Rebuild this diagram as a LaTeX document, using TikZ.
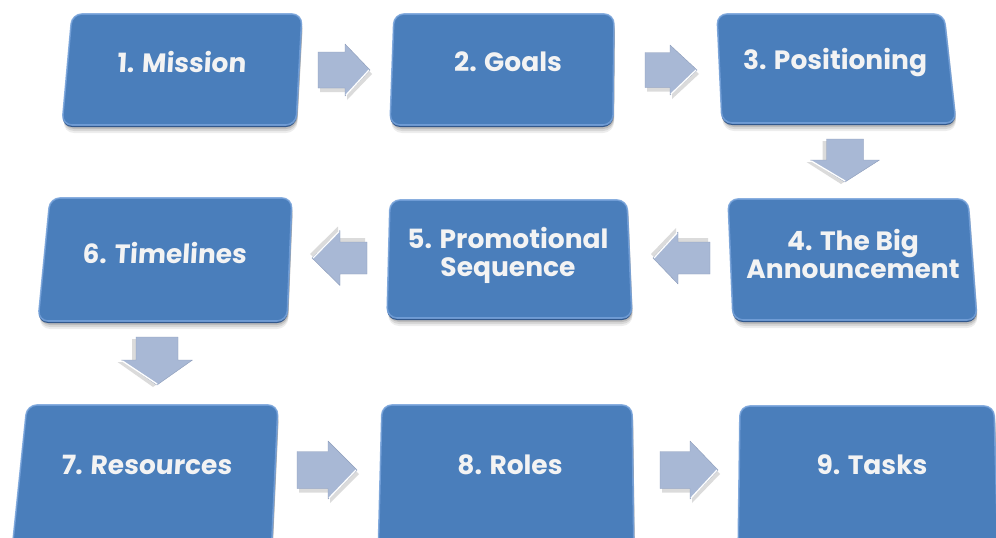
\documentclass[tikz,border=0pt]{standalone}
\usepackage{fontspec}
\setmainfont{Poppins}
\usetikzlibrary{calc}

\definecolor{boxblue}{RGB}{74,126,187}
\definecolor{boxrim}{RGB}{118,162,218}
\definecolor{boxdark}{RGB}{50,88,140}
\definecolor{arrowfill}{RGB}{168,184,213}
\definecolor{arrowedge}{RGB}{140,156,186}
\definecolor{labelwhite}{RGB}{243,243,243}

% rounded, slightly skewed step box: #1 name, #2..#5 = TL, TR, BR, BL corners
\newcommand\stepshape[5]{%
  \coordinate (#1-tl) at #2;
  \coordinate (#1-tr) at #3;
  \coordinate (#1-br) at #4;
  \coordinate (#1-bl) at #5;
  \foreach \dy/\op in {8/0.07,6/0.09,4/0.12,2/0.14}{%
    \fill[black,opacity=\op,rounded corners=11pt]
      ($(#1-tl)+(1,\dy)$) -- ($(#1-tr)+(1,\dy)$) -- ($(#1-br)+(1,\dy)$) -- ($(#1-bl)+(1,\dy)$) -- cycle;
  }
  \fill[boxdark,rounded corners=10pt]
    ($(#1-tl)+(0,2)$) -- ($(#1-tr)+(0,2)$) -- ($(#1-br)+(0,2)$) -- ($(#1-bl)+(0,2)$) -- cycle;
  \fill[boxblue,rounded corners=10pt] (#1-tl) -- (#1-tr) -- (#1-br) -- (#1-bl) -- cycle;
  \draw[boxrim,line width=1.6pt,opacity=.85,rounded corners=10pt]
    (#1-tl) -- (#1-tr) -- (#1-br) -- (#1-bl) -- cycle;
}

\tikzset{
  steplabel/.style={text=labelwhite,font=\bfseries\fontsize{26.5}{28}\selectfont,
    align=center,inner sep=0pt},
  leanlabel/.style={steplabel,xslant=0.06,transform shape},
  % block arrow pointing along +x with its tip at the origin:
  % #1 shaft length, #2 shaft width, #3 head length, #4 head width
  pics/blockarrow/.style n args={4}{code={
    \fill[black,opacity=.14]
      ({-#3-#1+2},{-#2/2+4}) -- ({-#3+2},{-#2/2+4}) -- ({-#3+2},{-#4/2+4}) -- (2,4)
      -- ({-#3+2},{#4/2+4}) -- ({-#3+2},{#2/2+4}) -- ({-#3-#1+2},{#2/2+4}) -- cycle;
    \fill[arrowfill,draw=arrowedge,line width=.4pt,line join=round]
      ({-#3-#1},{-#2/2}) -- ({-#3},{-#2/2}) -- ({-#3},{-#4/2}) -- (0,0)
      -- ({-#3},{#4/2}) -- ({-#3},{#2/2}) -- ({-#3-#1},{#2/2}) -- cycle;
    \draw[white,line width=1.3pt,line cap=round] ({-#3+1},{#4/2-1}) -- (-1,0);
  }}
}

\begin{document}
\begin{tikzpicture}[x=1pt,y=-1pt]
  \useasboundingbox (0,0) rectangle (996,538);
  \fill[white] (0,0) rectangle (996,538);
  \clip (0,0) rectangle (996,538);

  % row 1
  \stepshape{b1}{(72,14)}{(302,14)}{(296,125)}{(62,125)}
  \stepshape{b2}{(394,14)}{(614,14)}{(613,125)}{(390,125)}
  \stepshape{b3}{(717,14)}{(944,14)}{(956,123)}{(722,123)}
  % row 2
  \stepshape{b4}{(728,199)}{(968,199)}{(977,320)}{(733,320)}
  \stepshape{b5}{(390,200)}{(627,200)}{(632,318)}{(387,318)}
  \stepshape{b6}{(50,198)}{(292,198)}{(287,321)}{(38,321)}
  % row 3
  \stepshape{b7}{(27,405)}{(278,405)}{(271,560)}{(11,560)}
  \stepshape{b8}{(382,405)}{(632,405)}{(634,560)}{(378,560)}
  \stepshape{b9}{(740,406)}{(994,406)}{(998,560)}{(738,560)}

  % labels
  \node[leanlabel] (t1) at (182,62)  {1. Mission};
  \node[steplabel] (t2) at (508,62)  {2. Goals};
  \node[steplabel] (t3) at (835,63)  {3. Positioning};
  \node[steplabel] (t4) at (853,254) {4. The Big\\Announcement};
  \node[steplabel] (t5) at (508,255) {5. Promotional\\Sequence};
  \node[leanlabel] (t6) at (165,253) {6. Timelines};
  \node[leanlabel] (t7) at (147,465) {7. Resources};
  \node[steplabel] (t8) at (510,465) {8. Roles};
  \node[steplabel] (t9) at (872,465) {9. Tasks};

  % arrows between the steps
  \pic (a1) at (370,70) {blockarrow={27}{36}{25}{52}};
  \pic (a2) at (697,70) {blockarrow={25}{35}{27}{50}};
  \pic[rotate=-90] (a3) at (845,182) {blockarrow={21}{37}{22}{69}};
  \pic[rotate=180] (a4) at (653,258) {blockarrow={32}{32}{25}{52}};
  \pic[rotate=180] (a5) at (312,258) {blockarrow={27}{32}{28}{55}};
  \pic[rotate=-90] (a6) at (157,385) {blockarrow={23}{42}{25}{71}};
  \pic (a7) at (357,470) {blockarrow={31}{37}{29}{58}};
  \pic (a8) at (718,470) {blockarrow={30}{37}{28}{58}};
\end{tikzpicture}
\end{document}
